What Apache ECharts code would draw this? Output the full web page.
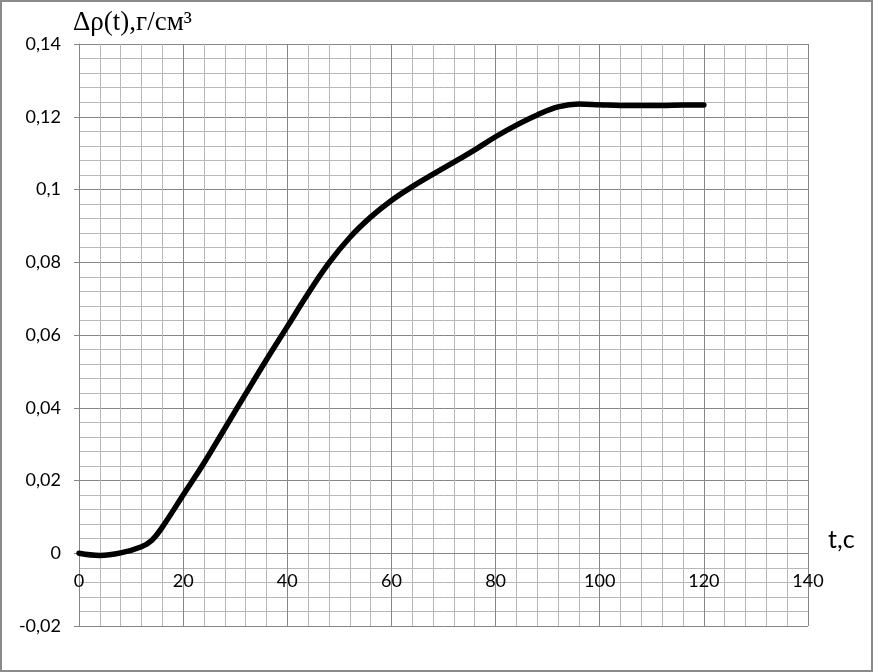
<!DOCTYPE html>
<html>
<head>
<meta charset="utf-8">
<script src="https://cdn.jsdelivr.net/npm/echarts@6/dist/echarts.min.js"></script>
<style>
html,body{margin:0;padding:0;background:#fff;}
#c{width:873px;height:672px;}
</style>
</head>
<body>
<div id="c"></div>
<script>
const tValues = [0, 4, 8, 12, 14, 16, 20, 24, 28, 32, 36, 40, 44, 48, 52, 56, 60, 64, 68, 72, 76, 80, 84, 88, 92, 96, 100, 104, 108, 112, 116, 120];
const rhoValues = [0, -0.0006, 0.0001, 0.0018, 0.0036, 0.0072, 0.016, 0.0248, 0.0343, 0.0438, 0.0532, 0.0623, 0.0714, 0.0798, 0.0868, 0.0924, 0.0970, 0.1008, 0.1042, 0.1075, 0.1109, 0.1145, 0.1177, 0.1205, 0.1227, 0.1235, 0.1233, 0.1231, 0.1231, 0.1231, 0.1232, 0.1232];
const xTicks = [0, 140, 20];
const yTicks = [-0.02, 0.14, 0.02];
const yTitle = 'Δρ(t),г/см³';
const xTitle = 't,c';

const chart = echarts.init(document.getElementById('c'), null, {renderer: 'canvas'});
const fmt = v => String(Math.round(v * 100) / 100).replace('.', ',');
const labelFont = {fontFamily: 'Lato', fontSize: 18, color: '#000'};
const plotH = 672 - 44 - 46;
const zeroOffset = -plotH * (0 - yTicks[0]) / (yTicks[1] - yTicks[0]);
chart.setOption({
  animation: false,
  backgroundColor: '#fff',
  grid: {left: 79, right: 65, top: 44, bottom: 46, containLabel: false},
  xAxis: {
    type: 'value', min: xTicks[0], max: xTicks[1], interval: xTicks[2],
    offset: zeroOffset,
    axisLine: {onZero: false, lineStyle: {color: '#868686', width: 1}},
    axisTick: {show: false},
    axisLabel: Object.assign({margin: 19, formatter: fmt}, labelFont),
    splitLine: {show: true, lineStyle: {color: '#868686', width: 1}},
    minorTick: {show: false, splitNumber: 5},
    minorSplitLine: {show: true, lineStyle: {color: '#b8b8b8', width: 1}}
  },
  yAxis: {
    type: 'value', min: yTicks[0], max: yTicks[1], interval: yTicks[2],
    axisLine: {show: true, onZero: false, lineStyle: {color: '#868686', width: 1}},
    axisTick: {show: true, length: 5, lineStyle: {color: '#868686'}},
    axisLabel: Object.assign({margin: 18, formatter: fmt}, labelFont),
    splitLine: {show: true, lineStyle: {color: '#868686', width: 1}},
    minorTick: {show: false, splitNumber: 5},
    minorSplitLine: {show: true, lineStyle: {color: '#b8b8b8', width: 1}}
  },
  series: [{
    type: 'line',
    data: tValues.map((t, i) => [t, rhoValues[i]]),
    smooth: 0.4,
    showSymbol: false,
    lineStyle: {color: '#000', width: 5.5, cap: 'round', join: 'round'}
  }],
  graphic: [
    {type: 'rect', shape: {x: 1, y: 1, width: 871, height: 670}, style: {fill: 'none', stroke: '#8a8a8a', lineWidth: 2}, silent: true},
    {type: 'text', left: 73, top: 9, style: {text: yTitle, font: '27px "Liberation Serif"', fill: '#000'}},
    {type: 'text', left: 828, top: 527, style: {text: xTitle, font: '25px Lato', fill: '#000'}}
  ]
});
</script>
</body>
</html>
